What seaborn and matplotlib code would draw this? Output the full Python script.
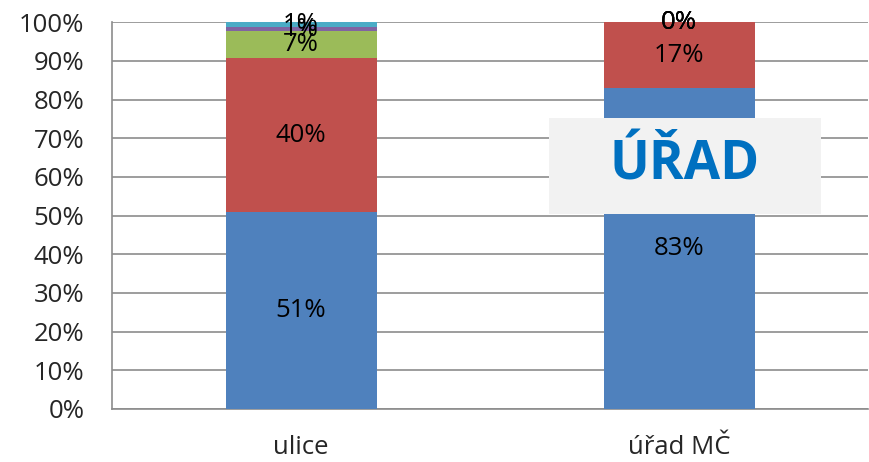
import numpy as np
import pandas as pd
import seaborn as sns
import matplotlib.pyplot as plt
from matplotlib.patches import Rectangle

# data (percent)
categories = ["ulice", "úřad MČ"]
series_names = ["s1", "s2", "s3", "s4", "s5"]
values = {
    "s1": [50.9, 83.0],
    "s2": [39.8, 17.0],
    "s3": [7.0, 0.0],
    "s4": [1.0, 0.0],
    "s5": [1.3, 0.0],
}
labels = {
    "s1": ["51%", "83%"],
    "s2": ["40%", "17%"],
    "s3": ["7%", "0%"],
    "s4": ["1%", "0%"],
    "s5": ["1%", "0%"],
}
colors = ["#4F81BD", "#C0504D", "#9BBB59", "#8064A2", "#4BACC6"]
yticks = np.arange(0, 101, 10)

sns.set_style("white")
plt.rcParams['font.family'] = ['Open Sans', 'DejaVu Sans']

df = pd.DataFrame(values, index=categories)
cum = df.cumsum(axis=1)

fig = plt.figure(figsize=(8.69, 4.62), dpi=100)
ax = fig.add_axes([0.129, 0.115, 0.870, 0.837])

# draw cumulative totals, tallest first, so each segment shows as a stack
for name, col in reversed(list(zip(series_names, colors))):
    d = pd.DataFrame({"cat": categories, "val": cum[name].values})
    sns.barplot(data=d, x="cat", y="val", color=col, width=0.4,
                saturation=1, linewidth=0, ax=ax, zorder=3)

# data labels centred in each segment
for name in series_names:
    for i, cat in enumerate(categories):
        mid = cum.loc[cat, name] - df.loc[cat, name] / 2
        ax.text(i, mid, labels[name][i], ha="center", va="center",
                fontsize=18.5, color="black", zorder=5)

ax.set_ylim(0, 100)
ax.set_xlim(-0.5, 1.5)
ax.set_yticks(yticks)
ax.set_yticklabels([f"{v}%" for v in yticks], fontsize=18.5)
ax.set_xticks([0, 1])
ax.set_xticklabels(categories, fontsize=18.5)
ax.tick_params(axis="x", length=0, pad=19)
ax.tick_params(axis="y", length=6, color="#8C8C8C", direction="out", pad=14)
# minor ticks at category boundaries
ax.set_xticks([-0.5, 0.5, 1.5], minor=True)
ax.tick_params(axis="x", which="minor", length=6, color="#8C8C8C", direction="out")
ax.yaxis.grid(True, color="#8C8C8C", linewidth=1.2, zorder=0)
ax.set_axisbelow(True)
for s in ["top", "right"]:
    ax.spines[s].set_visible(False)
for s in ["left", "bottom"]:
    ax.spines[s].set_color("#8C8C8C")
    ax.spines[s].set_linewidth(1.2)
ax.set_xlabel("")
ax.set_ylabel("")

# overlay box
fig.patches.append(Rectangle((549 / 869, 1 - 214 / 462), 272 / 869, 96 / 462,
                             transform=fig.transFigure, facecolor="#F2F2F2",
                             edgecolor="none", zorder=10))
fig.text(685 / 869, 1 - 166 / 462, "ÚŘAD", ha="center", va="center",
         fontsize=38, fontweight="bold", color="#0070C0", zorder=11)

fig.savefig("out.png", dpi=100)
